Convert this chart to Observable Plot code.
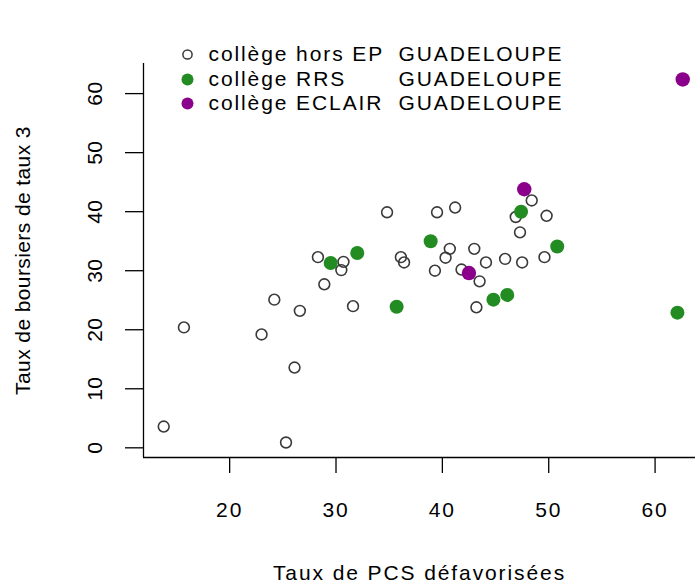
<!DOCTYPE html>
<html>
<head>
<meta charset="utf-8">
<script src="https://cdn.jsdelivr.net/npm/d3@7"></script>
<script src="https://cdn.jsdelivr.net/npm/@observablehq/plot@0.6"></script>
<style>
  html, body { margin: 0; padding: 0; background: #fff; }
</style>
</head>
<body>
<div id="chart"></div>
<script>
// --- Data ---
const horsEP_x = [13.8, 15.7, 23.0, 24.2, 25.3, 26.1, 26.6, 28.3, 28.9, 30.5, 30.7, 31.6, 34.8, 36.1, 36.4, 39.3, 39.5, 40.3, 40.7, 41.2, 41.8, 43.0, 43.2, 43.5, 44.1, 45.9, 46.9, 47.3, 47.5, 48.4, 49.6, 49.8];
const horsEP_y = [3.6, 20.4, 19.2, 25.1, 0.9, 13.6, 23.2, 32.3, 27.7, 30.1, 31.5, 24.0, 39.9, 32.3, 31.4, 30.0, 39.9, 32.2, 33.7, 40.7, 30.2, 33.7, 23.8, 28.2, 31.4, 32.0, 39.1, 36.5, 31.4, 41.9, 32.3, 39.3];
const rrs_x = [29.5, 32.0, 35.7, 38.9, 47.4, 50.8, 44.8, 46.1, 62.1];
const rrs_y = [31.3, 33.0, 23.9, 35.0, 40.0, 34.1, 25.1, 25.9, 22.9];
const eclair_x = [47.7, 42.5, 62.6];
const eclair_y = [43.8, 29.6, 62.4];

const categories = ["collège hors EP", "collège RRS", "collège ECLAIR"];
const region = "GUADELOUPE";
const xTicks = [20, 30, 40, 50, 60];
const yTicks = [0, 10, 20, 30, 40, 50, 60];
const xLabel = "Taux de PCS défavorisées";
const yLabel = "Taux de boursiers de taux 3";
const xDomain = [11.9, 63.8];
const yDomain = [-1.64, 65.1];

const green = "#228B22";
const purple = "#8B008B";
const ringColor = "#3a3a3a";

const toRows = (xs, ys) => xs.map((x, i) => ({x, y: ys[i]}));
const horsEP = toRows(horsEP_x, horsEP_y);
const rrs = toRows(rrs_x, rrs_y);
const eclair = toRows(eclair_x, eclair_y);

const legendRows = [
  {label: categories[0], dy: -9, fill: "none", stroke: ringColor, r: 4.6},
  {label: categories[1], dy: 16, fill: green, stroke: "none", r: 6},
  {label: categories[2], dy: 40, fill: purple, stroke: "none", r: 6}
];

const font = "'Liberation Sans', Arial, 'DejaVu Sans', sans-serif";

const legendMarks = legendRows.flatMap(row => [
  Plot.dot([row], {frameAnchor: "top-left", dx: 44, dy: row.dy, r: row.r,
    fill: row.fill, stroke: row.stroke, strokeWidth: 1.5}),
  Plot.text([row], {frameAnchor: "top-left", dx: 65, dy: row.dy, text: d => d.label,
    textAnchor: "start", lineAnchor: "middle", fontSize: 21, fill: "black"}),
  Plot.text([row], {frameAnchor: "top-left", dx: 255, dy: row.dy, text: () => region,
    textAnchor: "start", lineAnchor: "middle", fontSize: 21, fill: "black"})
]);

const chart = Plot.plot({
  width: 695,
  height: 585,
  marginLeft: 143,
  marginRight: 0,
  marginTop: 63,
  marginBottom: 128,
  style: {fontFamily: font, fontSize: "21px", color: "black", background: "white", overflow: "hidden"},
  x: {domain: xDomain, axis: null},
  y: {domain: yDomain, axis: null},
  marks: [
    Plot.ruleX([xDomain[0]], {stroke: "black", strokeWidth: 1.3}),
    Plot.ruleY([yDomain[0]], {stroke: "black", strokeWidth: 1.3}),
    Plot.axisX({ticks: xTicks, tickSize: 16, tickPadding: 29, fontSize: 21, label: null, stroke: "black", strokeWidth: 1.3}),
    Plot.axisY({ticks: yTicks, tickSize: 18, tickFormat: () => "", label: null, stroke: "black", strokeWidth: 1.3}),
    Plot.text(yTicks, {y: d => d, text: d => String(d), frameAnchor: "left", dx: -48,
      rotate: -90, textAnchor: "middle", lineAnchor: "middle", fontSize: 21, fill: "black"}),
    Plot.text([yLabel], {frameAnchor: "left", dx: -120, rotate: -90, textAnchor: "middle", lineAnchor: "middle",
      fontSize: 21, fill: "black", text: d => d}),
    Plot.text([xLabel], {frameAnchor: "bottom", dy: 122, lineAnchor: "bottom", textAnchor: "middle",
      fontSize: 21, fill: "black", text: d => d}),
    Plot.dot(horsEP, {x: "x", y: "y", r: 5.4, stroke: ringColor, strokeWidth: 1.6, fill: "none"}),
    Plot.dot(rrs, {x: "x", y: "y", r: 7, fill: green}),
    Plot.dot(eclair, {x: "x", y: "y", r: 7.2, fill: purple}),
    ...legendMarks
  ]
});

// Horizontal text in the reference is drawn with wider letter spacing than rotated text.
d3.select(chart).selectAll("text").each(function () {
  const t = this.getAttribute("transform") || "";
  const parentT = (this.parentNode && this.parentNode.getAttribute && this.parentNode.getAttribute("transform")) || "";
  const rotated = /rotate/.test(t) || /rotate/.test(parentT);
  this.style.letterSpacing = rotated ? "0.4px" : "1.9px";
});

document.getElementById("chart").appendChild(chart);
</script>
</body>
</html>
